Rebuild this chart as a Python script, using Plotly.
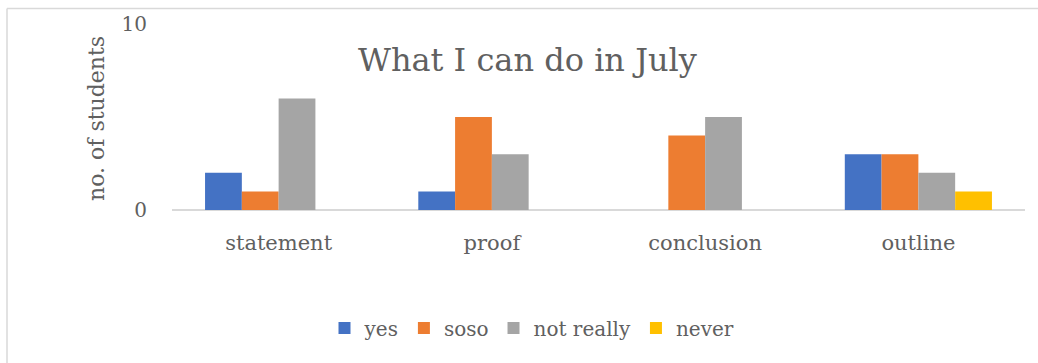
import plotly.graph_objects as go

categories = ["statement", "proof", "conclusion", "outline"]
series_names = ["yes", "soso", "not really", "never"]
yes_vals = [2, 1, 0, 3]
soso_vals = [1, 5, 4, 3]
notreally_vals = [6, 3, 5, 2]
never_vals = [0, 0, 0, 1]
colors = ["#4472C4", "#ED7D31", "#A5A5A5", "#FFC000"]

W, H = 1038, 363
L, R, T, B = 172, 13, 24, 153
pw = W - L - R
ph = H - T - B

def px(x):
    return (x - L) / pw

def py(y):
    return (H - B - y) / ph

FONT = "DejaVu Serif"
TXT = "#606060"

fig = go.Figure()
for name, vals, c in zip(series_names, [yes_vals, soso_vals, notreally_vals, never_vals], colors):
    fig.add_trace(go.Bar(x=categories, y=vals, name=name, marker=dict(color=c, line=dict(width=0))))

fig.update_layout(
    width=W, height=H,
    margin=dict(l=L, r=R, t=T, b=B),
    paper_bgcolor="white", plot_bgcolor="white",
    barmode="group", bargap=0.31, bargroupgap=0,
    font=dict(family=FONT, color=TXT, size=21),
    showlegend=True,
    legend=dict(orientation="h", x=px(532), xanchor="center", y=py(328), yanchor="middle",
                font=dict(size=20, family=FONT, color=TXT), itemwidth=30, traceorder="normal"),
    xaxis=dict(showgrid=False, showline=False, ticks="", tickfont=dict(size=21), ticklabelstandoff=18),
    yaxis=dict(range=[0, 10], dtick=10, showgrid=True, gridcolor="#D9D9D9", gridwidth=1.5,
               zeroline=True, zerolinecolor="#D9D9D9", zerolinewidth=1.5, showline=False,
               ticks="", tickfont=dict(size=20), ticklabelstandoff=24),
    annotations=[
        dict(text="What I can do in July", x=px(527), y=py(60), xref="paper", yref="paper",
             showarrow=False, font=dict(size=32, family=FONT, color=TXT), xanchor="center", yanchor="middle"),
        dict(text="no. of students", x=px(96), y=py(119), xref="paper", yref="paper",
             showarrow=False, textangle=-90, font=dict(size=22, family=FONT, color=TXT),
             xanchor="center", yanchor="middle"),
    ],
    shapes=[
        dict(type="line", xref="paper", yref="paper", x0=px(7), x1=px(1040), y0=py(8.5), y1=py(8.5),
             line=dict(color="#D9D9D9", width=1.5)),
        dict(type="line", xref="paper", yref="paper", x0=px(7), x1=px(7), y0=py(8.5), y1=py(370),
             line=dict(color="#D9D9D9", width=1.5)),
    ],
)

fig.write_html("out.html")
